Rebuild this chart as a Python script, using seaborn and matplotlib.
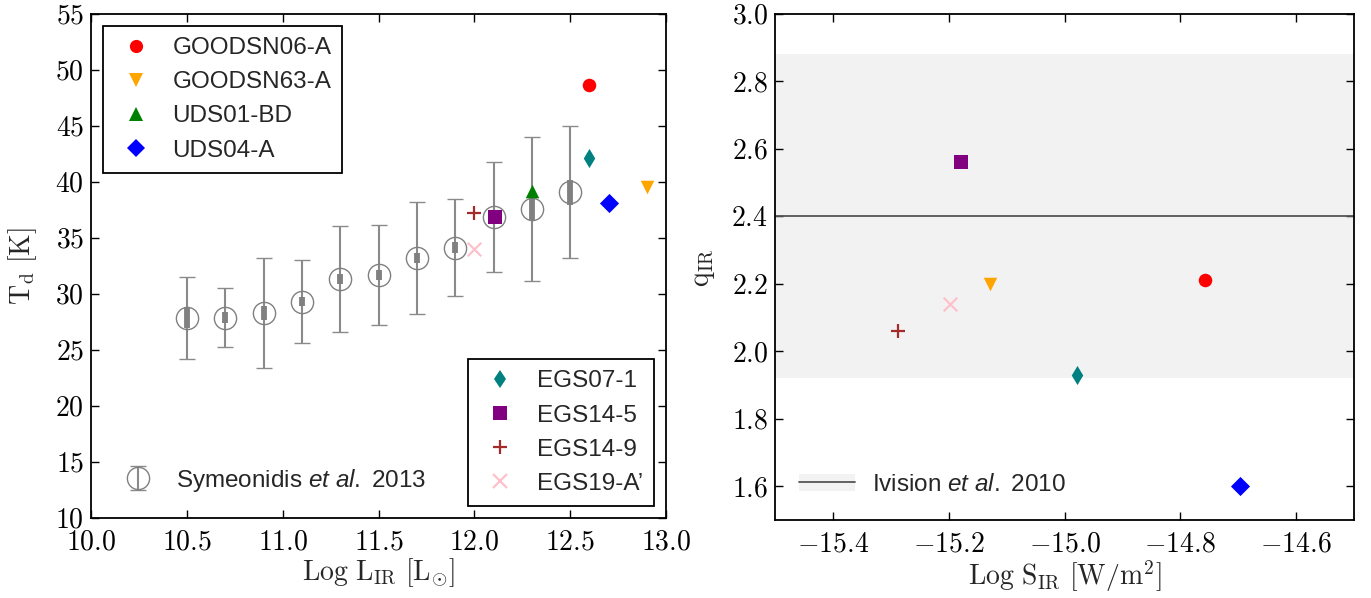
import matplotlib
matplotlib.use("Agg")
import matplotlib.pyplot as plt
import seaborn as sns
import numpy as np
from matplotlib.font_manager import FontProperties
from matplotlib.ticker import FuncFormatter, MultipleLocator
from matplotlib.patches import Patch
from matplotlib.lines import Line2D

# ---------------- data ----------------
names = ["GOODSN06-A", "GOODSN63-A", "UDS01-BD", "UDS04-A",
         "EGS07-1", "EGS14-5", "EGS14-9", "EGS19-A\u2019"]
markers = ["o", "v", "^", "D", "d", "s", "+", "x"]
colors = ["red", "orange", "green", "blue", "teal", "purple", "brown", "pink"]

log_lir = [12.60, 12.90, 12.30, 12.70, 12.60, 12.11, 12.00, 12.00]
t_dust = [48.7, 39.55, 39.2, 38.1, 42.1, 36.9, 37.2, 34.0]

log_sir = [-14.757, -15.128, None, -14.697, -14.978, -15.178, -15.288, -15.198]
q_ir = [2.21, 2.20, None, 1.60, 1.93, 2.56, 2.06, 2.14]

sym_x = [10.5, 10.7, 10.9, 11.1, 11.3, 11.5, 11.7, 11.9, 12.1, 12.3, 12.5]
sym_t = [27.9, 27.9, 28.3, 29.3, 31.35, 31.7, 33.25, 34.1, 36.9, 37.6, 39.1]
sym_hi = [31.5, 30.5, 33.25, 33.0, 36.05, 36.15, 38.2, 38.45, 41.8, 44.05, 45.0]
sym_lo = [24.2, 25.3, 23.4, 25.6, 26.65, 27.2, 28.25, 29.8, 31.95, 31.2, 33.25]
sym_mhi = [28.8, 28.4, 28.95, 29.7, 31.8, 32.1, 33.7, 34.6, 37.5, 38.55, 40.15]
sym_mlo = [26.95, 27.4, 27.65, 28.95, 30.9, 31.25, 32.75, 33.7, 36.3, 36.65, 37.95]

ivison_q = 2.40
ivison_scatter = 0.48

# ---------------- style ----------------
sns.set_style("ticks")
plt.rcParams.update({
    "font.family": ["Liberation Sans", "DejaVu Sans"],
    "mathtext.fontset": "cm",
    "mathtext.rm": "Liberation Sans",
    "mathtext.it": "Liberation Sans:italic",
    "mathtext.bf": "Liberation Sans:bold",
    "xtick.direction": "in",
    "ytick.direction": "in",
    "xtick.top": True,
    "ytick.right": True,
    "xtick.major.size": 6,
    "ytick.major.size": 6,
    "xtick.major.width": 1.0,
    "ytick.major.width": 1.0,
    "axes.linewidth": 1.3,
    "axes.edgecolor": "black",
    "xtick.color": "black",
    "ytick.color": "black",
})

fig = plt.figure(figsize=(13.71, 5.98), dpi=100)
W, H = 1371, 598
ax1 = fig.add_axes([91 / W, 80 / H, 575 / W, 504 / H])
ax2 = fig.add_axes([775 / W, 78 / H, 579 / W, 506 / H])

tick_fs = 20
lab_fs = 20
leg_fp = FontProperties(family="Liberation Sans", size=17.5, math_fontfamily="custom")

# ---------------- left panel ----------------
sx = np.array(sym_x)
st = np.array(sym_t)
yerr = [st - np.array(sym_lo), np.array(sym_hi) - st]
yerr_m = [st - np.array(sym_mlo), np.array(sym_mhi) - st]
eb = ax1.errorbar(sx, st, yerr=yerr, fmt="o", mfc="none", mec="#808080", mew=1.0,
                  ms=16, ecolor="#8a8a8a", elinewidth=1.5, capsize=5.5, capthick=1.5,
                  zorder=2)
ax1.errorbar(sx, st, yerr=yerr_m, fmt="none", ecolor="#808080", elinewidth=4.2,
             capsize=0, zorder=2)

handles = []
for i, name in enumerate(names):
    lw = 1.6 if markers[i] in ("+", "x") else 0
    sns.scatterplot(x=[log_lir[i]], y=[t_dust[i]], marker=markers[i], s=95,
                    color=colors[i], edgecolor=colors[i], linewidth=lw, ax=ax1,
                    zorder=3, legend=False)
    handles.append(Line2D([], [], linestyle="none", marker=markers[i], color=colors[i],
                          markersize=9.5, markeredgewidth=1.6 if lw else 0,
                          label=name))

ax1.set_xlim(10.0, 13.0)
ax1.set_ylim(10, 55)
ax1.xaxis.set_major_locator(MultipleLocator(0.5))
ax1.yaxis.set_major_locator(MultipleLocator(5))
ax1.xaxis.set_major_formatter(FuncFormatter(lambda v, p: f"${v:.1f}$"))
ax1.yaxis.set_major_formatter(FuncFormatter(lambda v, p: f"${v:.0f}$"))
ax1.tick_params(labelsize=tick_fs)
ax1.tick_params(axis="x", pad=8)
ax1.tick_params(axis="y", pad=5)
ax1.set_xlabel(r"$\mathrm{Log\ L_{IR}\ [L_{\odot}]}$", fontsize=lab_fs, labelpad=1)
ax1.set_ylabel(r"$\mathrm{T_{d}\ [K]}$", fontsize=lab_fs, labelpad=12)

leg_kw = dict(prop=leg_fp, frameon=True, fancybox=False, framealpha=1,
              edgecolor="black", borderpad=0.45, labelspacing=0.5,
              handletextpad=0.6, handlelength=1.8, borderaxespad=0.5)
l1 = ax1.legend(handles=handles[:4], loc="upper left", **leg_kw)
l1.get_frame().set_linewidth(1.3)
ax1.add_artist(l1)
l2 = ax1.legend(handles=handles[4:], loc="lower right", **leg_kw)
l2.get_frame().set_linewidth(1.3)
ax1.add_artist(l2)
l3 = ax1.legend([eb], [r"Symeonidis $\mathit{et\ al.}$ 2013"], loc="lower left",
                prop=leg_fp, frameon=False, handletextpad=0.6, handlelength=1.9,
                borderaxespad=0.6)

# ---------------- right panel ----------------
ax2.axhspan(ivison_q - ivison_scatter, ivison_q + ivison_scatter, color="#f2f2f2",
            lw=0, zorder=0)
ax2.axhline(ivison_q, color="#555555", lw=1.3, zorder=1)
for i, name in enumerate(names):
    if log_sir[i] is None:
        continue
    lw = 1.6 if markers[i] in ("+", "x") else 0
    sns.scatterplot(x=[log_sir[i]], y=[q_ir[i]], marker=markers[i], s=95,
                    color=colors[i], edgecolor=colors[i], linewidth=lw, ax=ax2,
                    zorder=3, legend=False)

ax2.set_xlim(-15.5, -14.5)
ax2.set_ylim(1.5, 3.0)
ax2.set_xticks([-15.4, -15.2, -15.0, -14.8, -14.6])
ax2.set_yticks([1.6, 1.8, 2.0, 2.2, 2.4, 2.6, 2.8, 3.0])
ax2.xaxis.set_major_formatter(FuncFormatter(lambda v, p: f"${v:.1f}$"))
ax2.yaxis.set_major_formatter(FuncFormatter(lambda v, p: f"${v:.1f}$"))
ax2.tick_params(labelsize=tick_fs)
ax2.tick_params(axis="x", pad=8)
ax2.tick_params(axis="y", pad=5)
ax2.set_xlabel(r"$\mathrm{Log\ S_{IR}\ [W/m^{2}]}$", fontsize=lab_fs, labelpad=1)
ax2.set_ylabel(r"$\mathrm{q_{IR}}$", fontsize=lab_fs, labelpad=10)

band_h = Patch(facecolor="#f2f2f2", edgecolor="none")
line_h = Line2D([], [], color="#555555", lw=1.3)
ax2.legend([(band_h, line_h)], [r"Ivision $\mathit{et\ al.}$ 2010"], loc="lower left",
           prop=leg_fp, frameon=False, handletextpad=0.7, handlelength=2.3,
           borderaxespad=0.6)

fig.savefig("out.png", dpi=100)
